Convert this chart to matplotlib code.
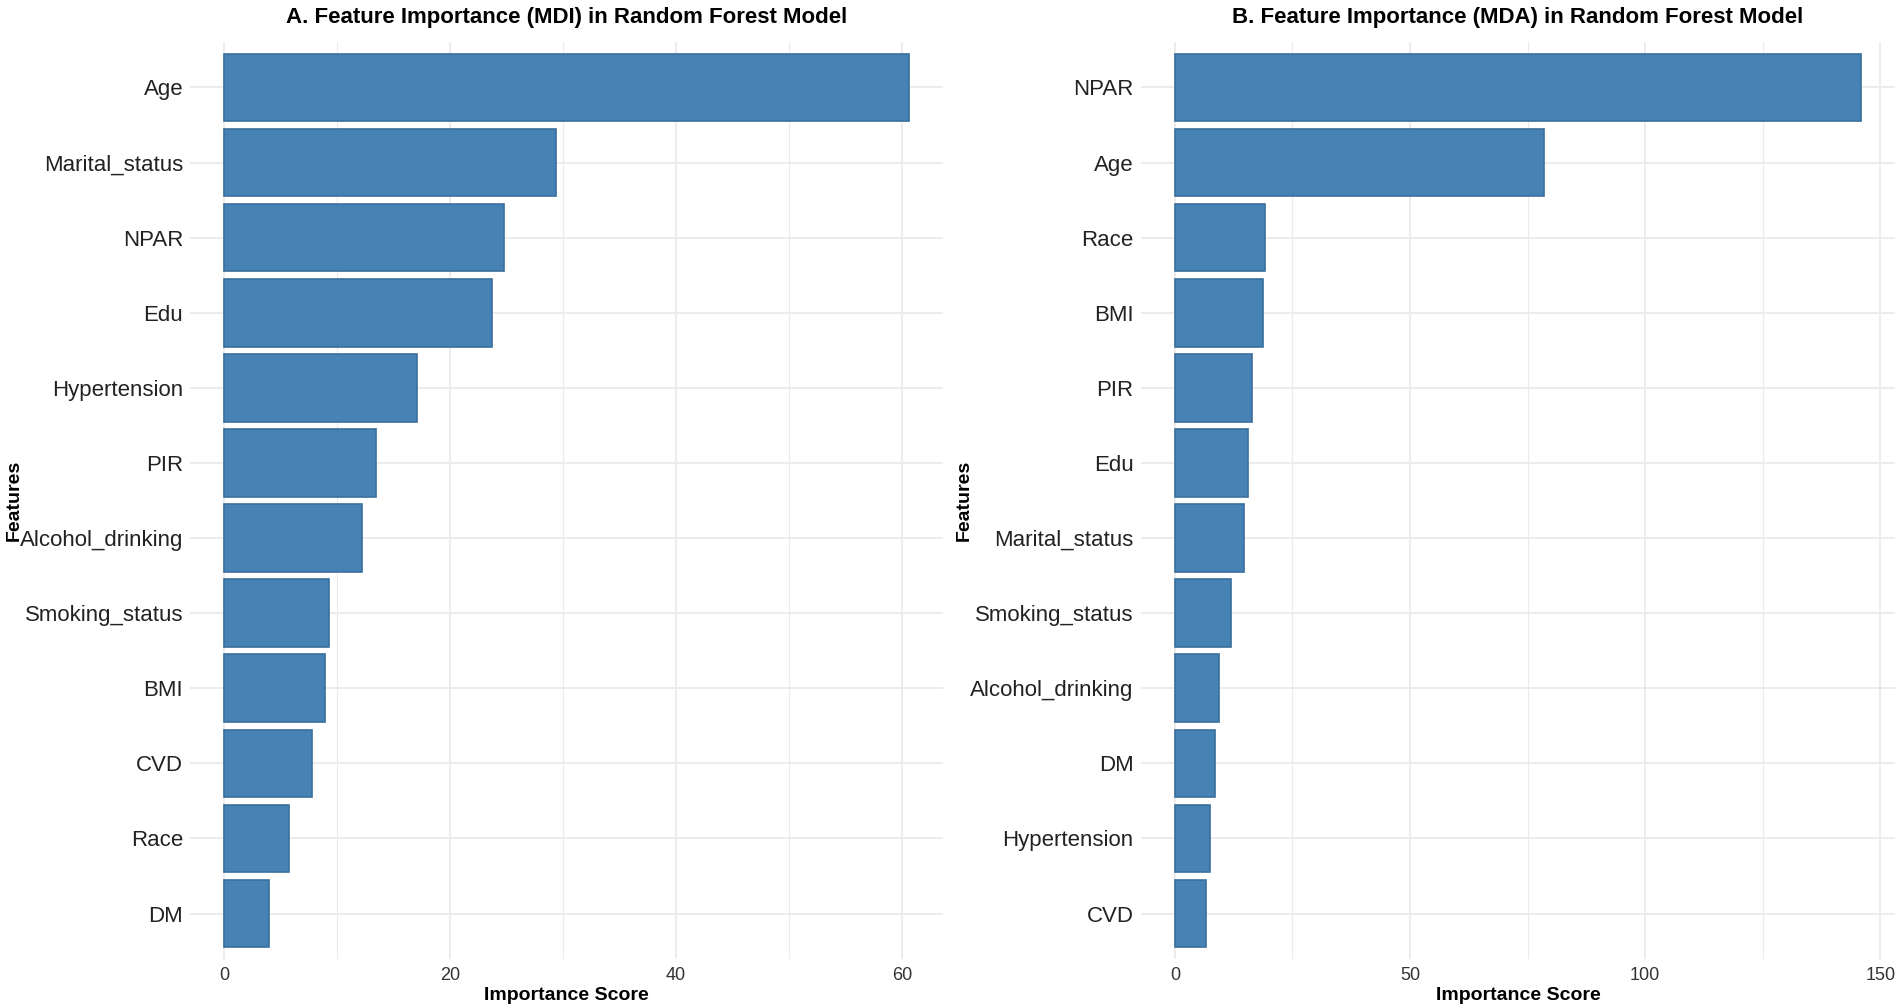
import numpy as np
import matplotlib
matplotlib.use("Agg")
import matplotlib.pyplot as plt
from matplotlib.ticker import MultipleLocator

plt.rcParams['font.family'] = ['Liberation Sans', 'DejaVu Sans']

# Panel A: mean decrease in impurity
mdi_features = ["Age", "Marital_status", "NPAR", "Edu", "Hypertension", "PIR",
                "Alcohol_drinking", "Smoking_status", "BMI", "CVD", "Race", "DM"]
mdi_values = [60.6, 29.4, 24.8, 23.7, 17.1, 13.4, 12.2, 9.3, 8.9, 7.8, 5.7, 4.0]

# Panel B: mean decrease in accuracy
mda_features = ["NPAR", "Age", "Race", "BMI", "PIR", "Edu", "Marital_status",
                "Smoking_status", "Alcohol_drinking", "DM", "Hypertension", "CVD"]
mda_values = [145.9, 78.4, 19.1, 18.8, 16.5, 15.5, 14.7, 11.9, 9.3, 8.5, 7.5, 6.7]

FILL = "#4682B4"
EDGE = "#3b6f9c"
GRID = "#EBEBEB"


def draw_panel(ax, features, values, title, major, minor):
	n = len(features)
	# largest at top, like coord_flip with reorder()
	ypos = np.arange(n)[::-1] + 1
	ax.barh(ypos, values, height=0.9, color=FILL, edgecolor=EDGE, linewidth=1.2, zorder=3)

	ax.set_yticks(ypos)
	ax.set_yticklabels(features, fontsize=16, color="#222222")
	ax.set_ylim(0.4, n + 0.6)

	vmax = max(values)
	ax.set_xlim(-0.05 * vmax, vmax * 1.05)
	ax.xaxis.set_major_locator(MultipleLocator(major))
	ax.xaxis.set_minor_locator(MultipleLocator(minor))
	ax.tick_params(axis="x", labelsize=13, labelcolor="#333333", length=0, pad=6)
	ax.tick_params(axis="y", length=0, pad=5)
	ax.tick_params(which="minor", length=0)

	ax.grid(which="major", color=GRID, linewidth=1.3, zorder=0)
	ax.grid(which="minor", axis="x", color=GRID, linewidth=0.8, zorder=0)
	for s in ax.spines.values():
		s.set_visible(False)

	ax.set_title(title, fontsize=16, fontweight="bold", pad=14)
	ax.set_xlabel("Importance Score", fontsize=14, fontweight="bold", labelpad=2)


fig = plt.figure(figsize=(19.01, 10.08), dpi=100)
ax1 = fig.add_axes([0.100, 0.049, 0.396, 0.909])
ax2 = fig.add_axes([0.600, 0.049, 0.397, 0.909])

draw_panel(ax1, mdi_features, mdi_values,
	"A. Feature Importance (MDI) in Random Forest Model", 20, 10)
draw_panel(ax2, mda_features, mda_values,
	"B. Feature Importance (MDA) in Random Forest Model", 50, 25)

# y axis titles sit close to the widest labels
fig.text(14 / 1901, 0.5035, "Features", rotation=90, ha="center", va="center",
	fontsize=14, fontweight="bold")
fig.text(964 / 1901, 0.5035, "Features", rotation=90, ha="center", va="center",
	fontsize=14, fontweight="bold")

fig.savefig("out.png", dpi=100)
